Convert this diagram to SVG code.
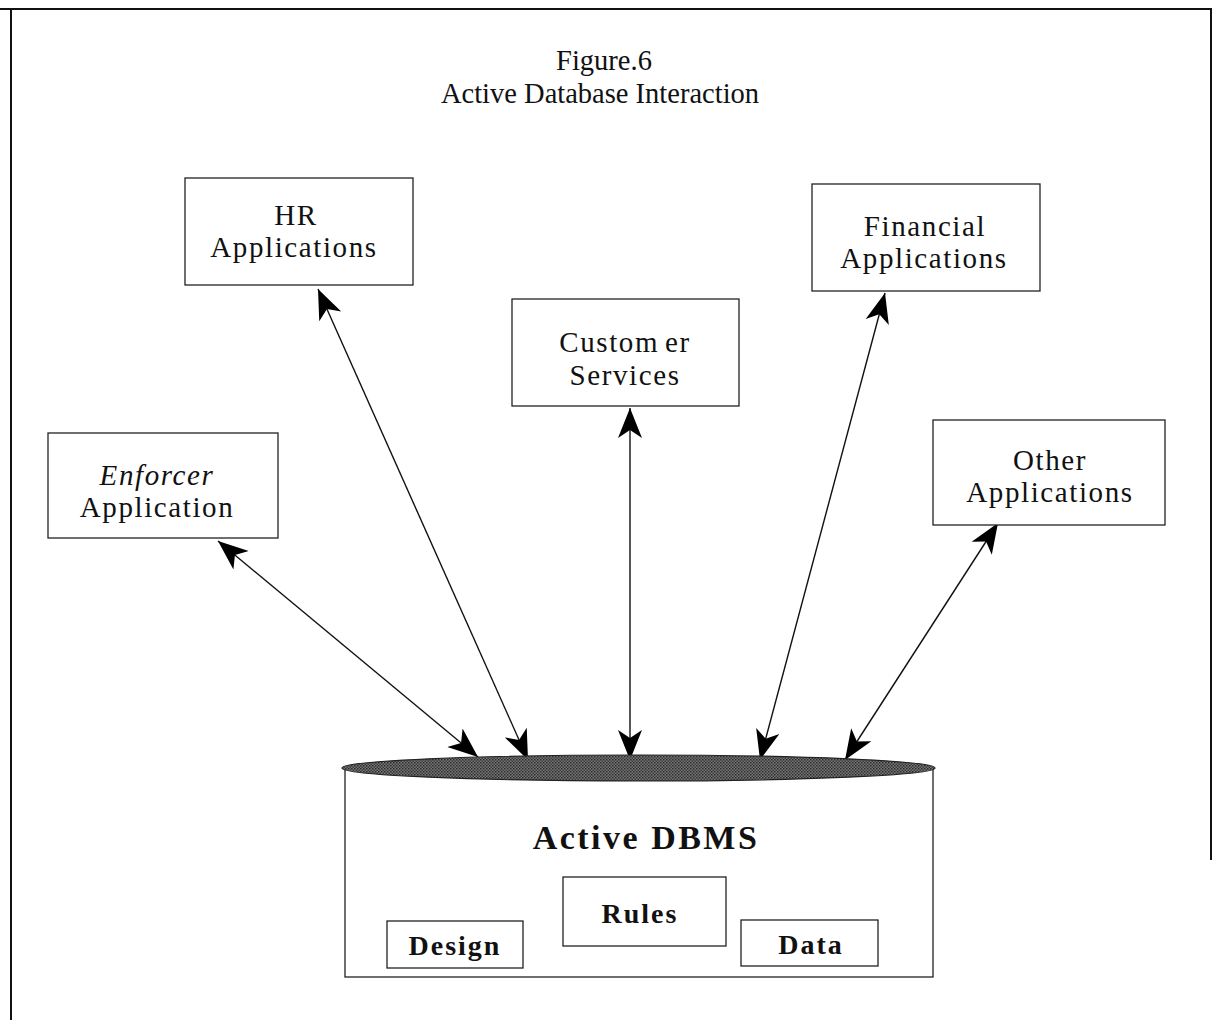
<svg xmlns="http://www.w3.org/2000/svg" width="1213" height="1020" viewBox="0 0 1213 1020">
<style>
.box{fill:#fff;stroke:#222;stroke-width:1.3}
.lbl{font-family:"Liberation Serif","Times New Roman",serif;font-size:29px;letter-spacing:1.6px;text-anchor:middle;fill:#111}
.it{font-style:italic}
.bold{font-family:"Liberation Serif","Times New Roman",serif;font-weight:bold;text-anchor:middle;fill:#111}
.title{font-family:"Liberation Serif","Times New Roman",serif;font-size:28.5px;text-anchor:middle;fill:#111}
.conn{stroke:#111;stroke-width:1.4;fill:none;marker-start:url(#ah);marker-end:url(#ah)}
</style>
<defs>
<marker id="ah" markerUnits="userSpaceOnUse" markerWidth="34" markerHeight="28" refX="30" refY="0" viewBox="0 -14 34 28" orient="auto-start-reverse">
<path d="M0,-12 L30,0 L0,12 L8,0 Z" fill="#000"/>
</marker>
<pattern id="dots" width="3" height="3" patternUnits="userSpaceOnUse">
<rect width="3" height="3" fill="#777"/>
<rect width="1.5" height="1.5" fill="#2a2a2a"/>
<rect x="1.5" y="1.5" width="1.5" height="1.5" fill="#3a3a3a"/>
</pattern>
</defs>
<rect width="1213" height="1020" fill="#fff"/>
<g id="frame" stroke="#111" stroke-width="2" fill="none">
<line x1="0" y1="9" x2="1212" y2="9"/>
<line x1="11" y1="9" x2="11" y2="1020"/>
<line x1="1211" y1="9" x2="1211" y2="860"/>
</g>
<g id="title">
<text class="title" x="604" y="70">Figure.6</text>
<text class="title" x="600" y="103">Active Database Interaction</text>
</g>
<g id="connectors">
<line class="conn" x1="218" y1="541" x2="478" y2="757"/>
<line class="conn" x1="318" y1="289" x2="528" y2="760"/>
<line class="conn" x1="630" y1="408" x2="630" y2="760"/>
<line class="conn" x1="885" y1="293" x2="760" y2="760"/>
<line class="conn" x1="998" y1="523" x2="845" y2="760"/>
</g>
<g id="hr">
<rect class="box" x="185" y="178" width="228" height="107"/>
<text class="lbl" x="296" y="225">HR</text>
<text class="lbl" x="294" y="257">Applications</text>
</g>
<g id="customer">
<rect class="box" x="512" y="299" width="227" height="107"/>
<text class="lbl" x="625" y="352">Custom<tspan dx="6">er</tspan></text>
<text class="lbl" x="625" y="385">Services</text>
</g>
<g id="financial">
<rect class="box" x="812" y="184" width="228" height="107"/>
<text class="lbl" x="925" y="236">Financial</text>
<text class="lbl" x="924" y="268">Applications</text>
</g>
<g id="enforcer">
<rect class="box" x="48" y="433" width="230" height="105"/>
<text class="lbl it" x="157" y="485">Enforcer</text>
<text class="lbl" x="157" y="517">Application</text>
</g>
<g id="other">
<rect class="box" x="933" y="420" width="232" height="105"/>
<text class="lbl" x="1050" y="470">Other</text>
<text class="lbl" x="1050" y="502">Applications</text>
</g>
<g id="dbms">
<rect class="box" x="345" y="768" width="588" height="209"/>
<ellipse cx="638.5" cy="768" rx="296.5" ry="13" fill="url(#dots)" stroke="#222" stroke-width="1.2"/>
<text class="bold" x="646" y="849" font-size="34" letter-spacing="2.5">Active DBMS</text>
</g>
<g id="rules">
<rect class="box" x="563" y="877" width="163" height="69"/>
<text class="bold" x="640" y="923" font-size="28" letter-spacing="2">Rules</text>
</g>
<g id="design">
<rect class="box" x="387" y="921" width="136" height="47"/>
<text class="bold" x="455" y="955" font-size="28" letter-spacing="2">Design</text>
</g>
<g id="data">
<rect class="box" x="741" y="920" width="137" height="46"/>
<text class="bold" x="811" y="954" font-size="28" letter-spacing="2">Data</text>
</g>
</svg>
